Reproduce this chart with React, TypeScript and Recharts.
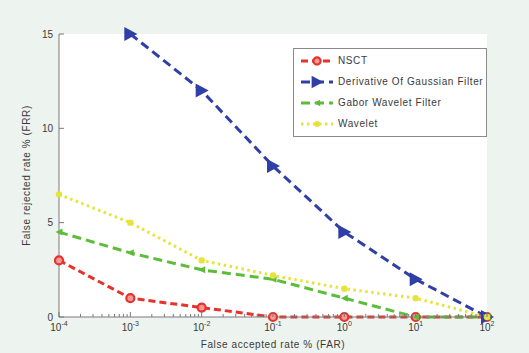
import { LineChart, Line, XAxis, YAxis } from 'recharts';

const far = [1e-4, 1e-3, 1e-2, 1e-1, 1, 10, 100];
const nsct = [3, 1, 0.5, 0, 0, 0, 0];
const dog = [null, 15, 12, 8, 4.5, 2, 0];
const gabor = [4.5, 3.4, 2.5, 2, 1, 0, 0];
const wavelet = [6.5, 5, 3, 2.2, 1.5, 1, 0];
const yTicks = [0, 5, 10, 15];

const exps = [-4, -3, -2, -1, 0, 1];
const xTicks: number[] = [];
exps.forEach(e => { for (let k = 1; k <= 9; k++) xTicks.push(k * Math.pow(10, e)); });
xTicks.push(100);

const data = far.map((f, i) => ({ far: f, nsct: nsct[i], dog: dog[i], gabor: gabor[i], wavelet: wavelet[i] }));

const font = '"Liberation Sans", Arial, sans-serif';
const txt = '#3a3a3a';
const axisCol = '#7a7a7a';
const fs = 10;
const ls = 0.6;

const series = [
    { key: 'nsct', name: 'NSCT', color: '#e8312b', dash: '7 4', marker: 'circle' },
    { key: 'dog', name: 'Derivative Of Gaussian Filter', color: '#2f3fa6', dash: '9 5', marker: 'tri' },
    { key: 'gabor', name: 'Gabor Wavelet Filter', color: '#5dbd3a', dash: '9 5', marker: 'ltri' },
    { key: 'wavelet', name: 'Wavelet', color: '#e6e43a', dash: '2.5 3.5', marker: 'dot' },
];

function marker(kind: string, color: string, cx: number, cy: number, s = 1) {
    if (kind === 'circle') return <circle cx={cx} cy={cy} r={4 * s} fill="#f39a96" stroke={color} strokeWidth={2.2} />;
    if (kind === 'tri') return <polygon points={`${cx - 6 * s},${cy - 7 * s} ${cx + 7 * s},${cy} ${cx - 6 * s},${cy + 7 * s}`} fill={color} />;
    if (kind === 'ltri') return <polygon points={`${cx + 3.5 * s},${cy - 3.5 * s} ${cx - 3.5 * s},${cy} ${cx + 3.5 * s},${cy + 3.5 * s}`} fill={color} />;
    return <circle cx={cx} cy={cy} r={3.2 * s} fill={color} />;
}

const makeDot = (kind: string, color: string) => (p: any) => {
    if (p.value == null || p.cy == null) return <g key={p.key} />;
    return <g key={p.key}>{marker(kind, color, p.cx, p.cy)}</g>;
};

const XTick = (top: boolean) => (p: any) => {
    const v = p.payload.value;
    const lg = Math.log10(v);
    const exp = Math.round(lg);
    const major = Math.abs(lg - exp) < 1e-6;
    const len = major ? 5 : 3;
    return (
        <g>
            <line x1={p.x} x2={p.x} y1={p.y} y2={top ? p.y + len : p.y - len} stroke={axisCol} strokeWidth={1} />
            {!top && major && (
                <text x={p.x} y={p.y + 14} textAnchor="middle" fontSize={fs} fill={txt} fontFamily={font}>
                    10<tspan dy={-5} fontSize={7}>{exp}</tspan>
                </text>
            )}
        </g>
    );
};

const YTick = (right: boolean) => (p: any) => (
    <g>
        <line x1={right ? p.x : p.x + 6} x2={right ? p.x - 5 : p.x + 11} y1={p.y} y2={p.y} stroke={axisCol} strokeWidth={1} />
        {!right && <text x={p.x} y={p.y + 3.5} textAnchor="end" fontSize={fs} fill={txt} fontFamily={font}>{p.payload.value}</text>}
    </g>
);

const LegendBox = () => (
    <div style={{ position: 'absolute', top: 48, left: 293, width: 194, height: 89, boxSizing: 'border-box', border: '1px solid #8a8a8a', background: '#fff', padding: '1px 0 0 6px', fontFamily: font, fontSize: fs, letterSpacing: ls, color: txt }}>
        {series.map(s => (
            <div key={s.key} style={{ display: 'flex', alignItems: 'center', height: 21 }}>
                <svg width={34} height={14}>
                    <line x1={1} x2={33} y1={7} y2={7} stroke={s.color} strokeWidth={3} strokeDasharray={s.dash} />
                    {marker(s.marker, s.color, 17, 7, 0.9)}
                </svg>
                <span style={{ marginLeft: 4, whiteSpace: 'nowrap' }}>{s.name}</span>
            </div>
        ))}
    </div>
);

export default function App() {
    return (
        <div style={{ position: 'fixed', left: 0, top: 0, width: 529, height: 353, background: '#edf3ee' }}>
            <LineChart width={529} height={353} data={data} margin={{ top: 34, right: 42, left: 0, bottom: 0 }}>
                <rect x={59} y={34} width={428} height={283} fill="#fff" />
                <XAxis xAxisId="b" dataKey="far" type="number" scale="log" domain={[1e-4, 100]} ticks={xTicks}
                    height={36} tickSize={0} tickMargin={0} axisLine={{ stroke: axisCol }} tick={XTick(false)} interval={0}
                    label={{ content: ({ viewBox }: any) => <text x={viewBox.x + viewBox.width / 2} y={viewBox.y + 31} textAnchor="middle" fontSize={fs} letterSpacing={ls} fill={txt} fontFamily={font}>False accepted rate % (FAR)</text> }} />
                <XAxis xAxisId="t" orientation="top" dataKey="far" type="number" scale="log" domain={[1e-4, 100]} ticks={xTicks}
                    height={0} tickSize={0} tickMargin={0} axisLine={{ stroke: axisCol }} tick={XTick(true)} interval={0}
                    label={{ content: ({ viewBox }: any) => <text x={viewBox.x + viewBox.width / 2} y={viewBox.y - 11} textAnchor="middle" fontSize={fs} letterSpacing={ls} fill={txt} fontFamily={font}>ROC Curves</text> }} />
                <YAxis yAxisId="l" domain={[0, 15]} ticks={yTicks} width={59} tickSize={0} tickMargin={6} axisLine={{ stroke: axisCol }} tick={YTick(false)}
                    label={{ content: ({ viewBox }: any) => <text transform={`translate(${viewBox.x + 30},${viewBox.y + viewBox.height / 2}) rotate(-90)`} textAnchor="middle" fontSize={fs} letterSpacing={ls} fill={txt} fontFamily={font}>False rejected rate % (FRR)</text> }} />
                <YAxis yAxisId="r" orientation="right" domain={[0, 15]} ticks={yTicks} width={0} tickSize={0} tickMargin={0} axisLine={{ stroke: axisCol }} tick={YTick(true)} />
                {series.map(s => (
                    <Line key={s.key} xAxisId="b" yAxisId="l" dataKey={s.key} name={s.name} stroke={s.color} strokeWidth={3}
                        strokeDasharray={s.dash} dot={makeDot(s.marker, s.color)} activeDot={false} isAnimationActive={false} />
                ))}
            </LineChart>
            <LegendBox />
        </div>
    );
}
